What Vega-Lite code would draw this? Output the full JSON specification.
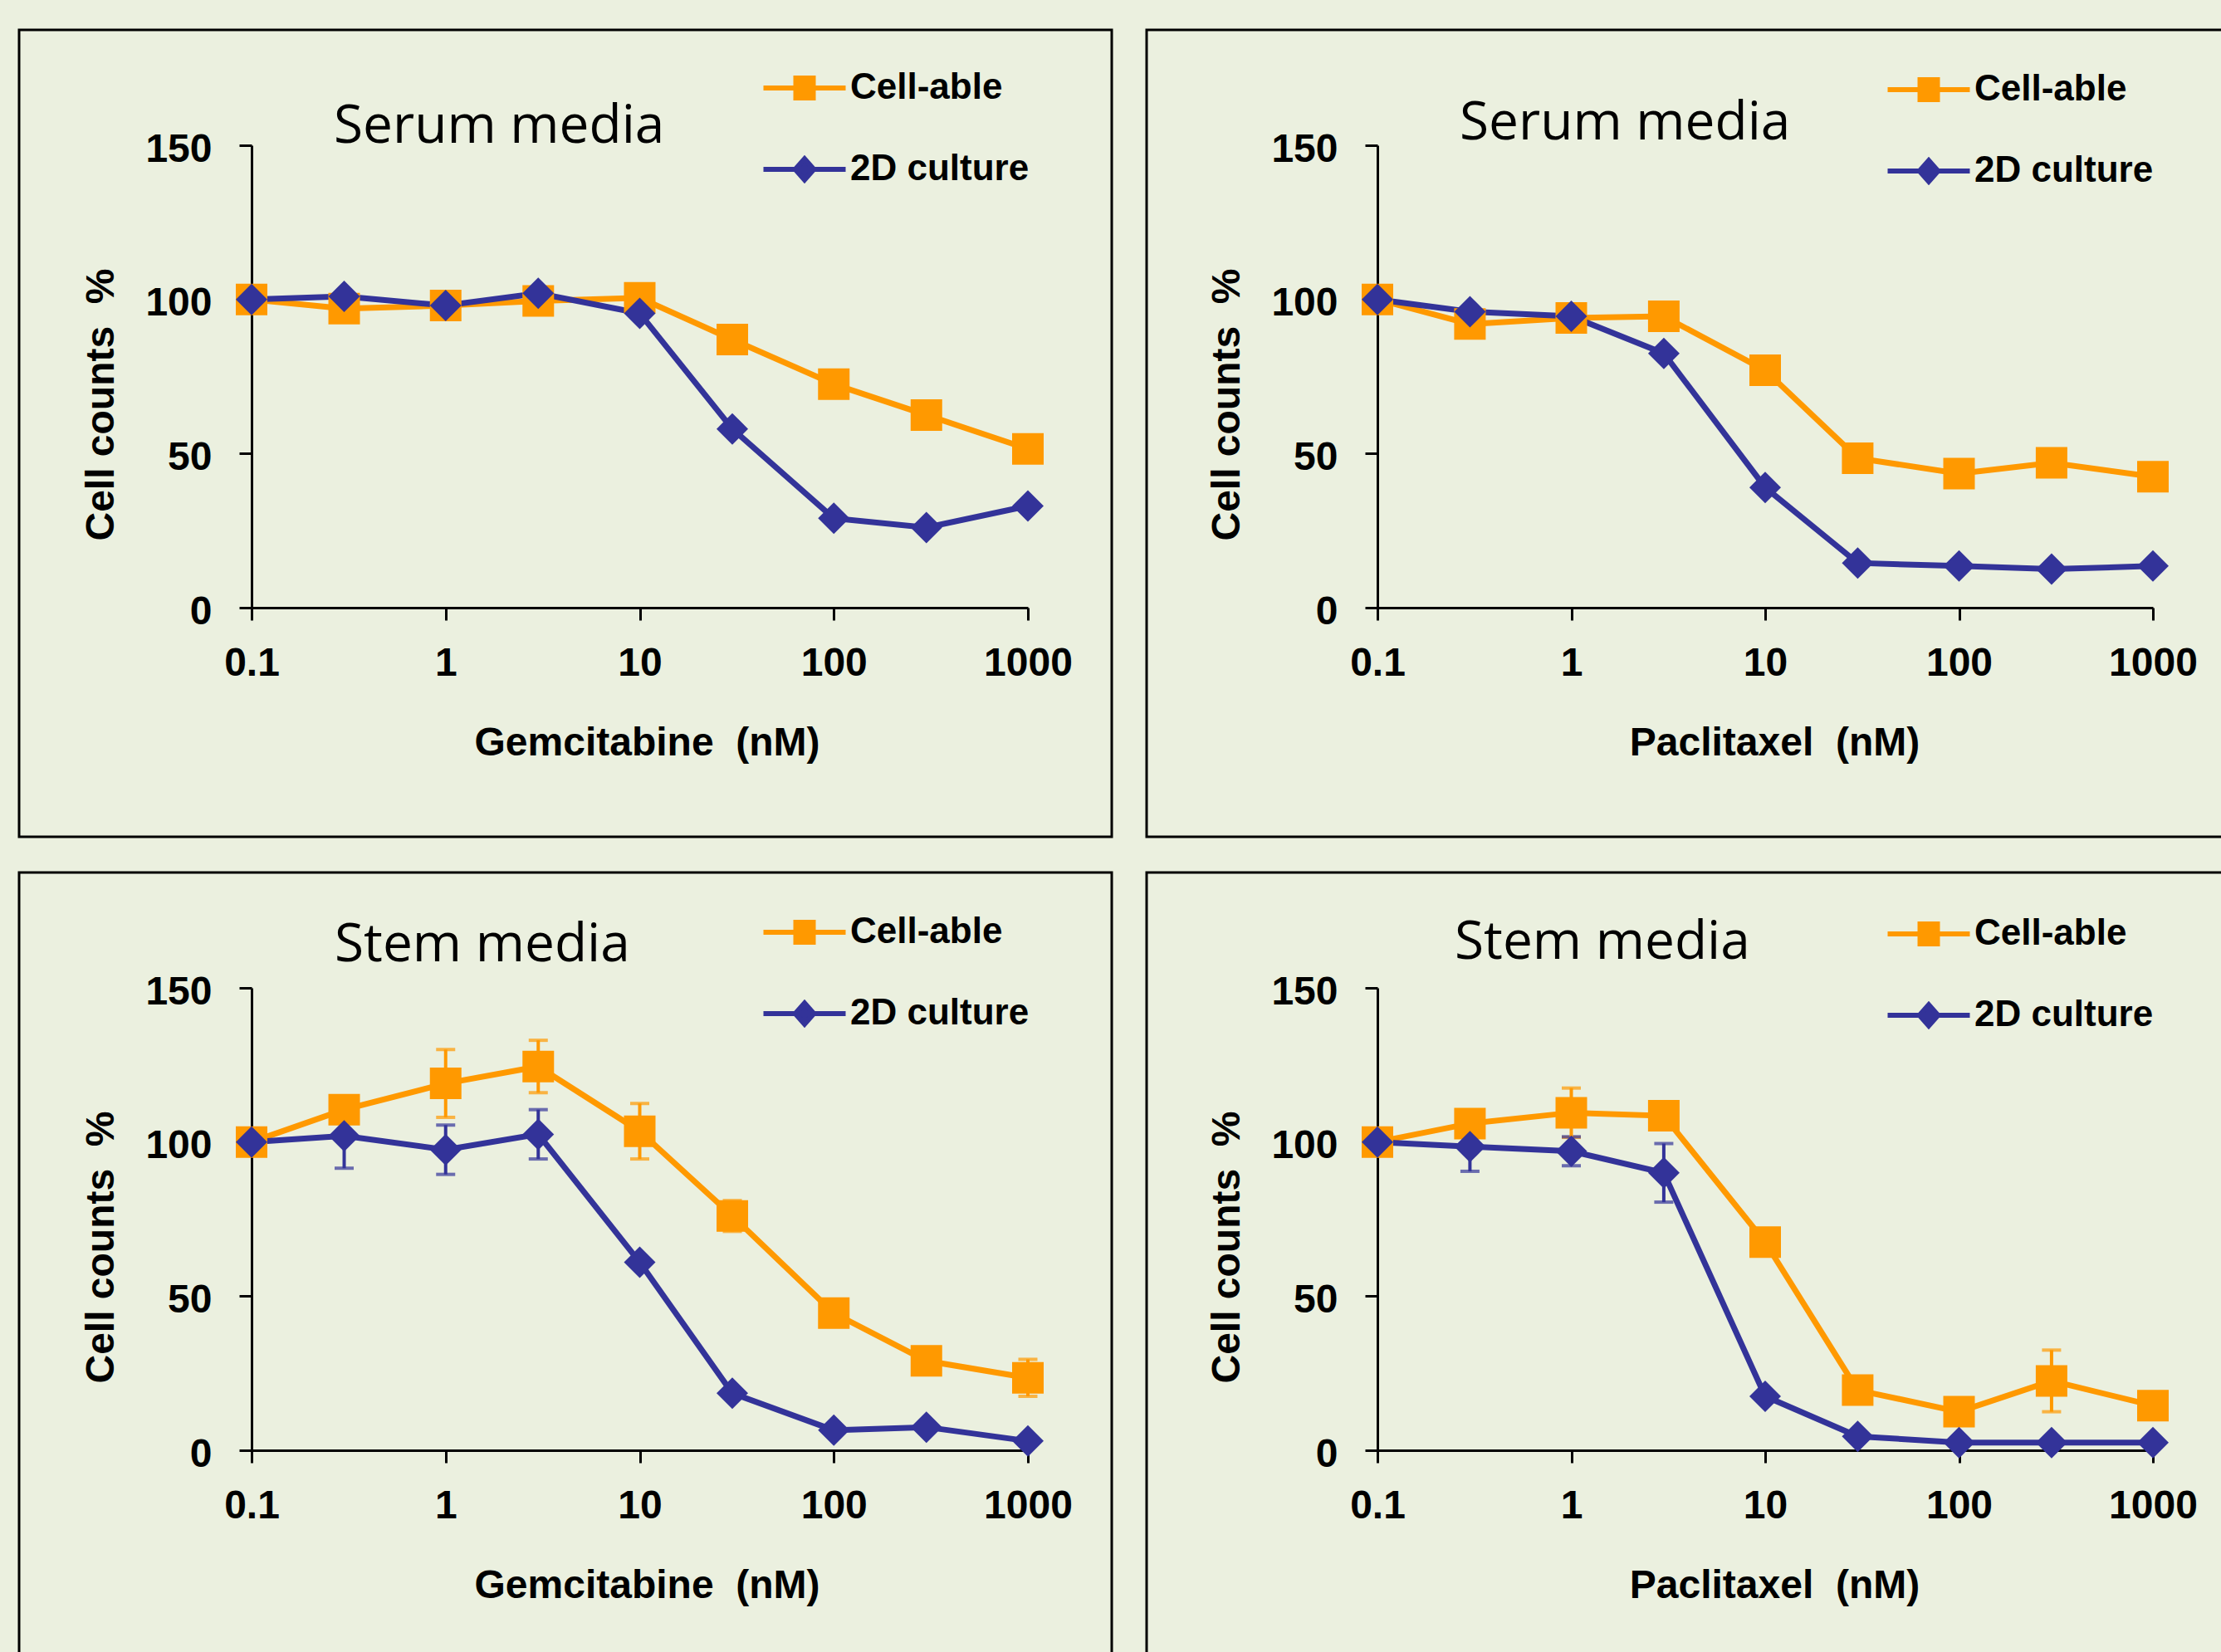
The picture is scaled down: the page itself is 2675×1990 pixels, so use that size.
{
  "$schema": "https://vega.github.io/schema/vega-lite/v6.json",
  "background": "#EBF0DF",
  "padding": {"left": 21, "top": 34, "right": 0, "bottom": 0},
  "data": {"values": [
    {"p": "SG", "series": "Cell-able", "conc": 0.1, "value": 100, "err": 0},
    {"p": "SG", "series": "Cell-able", "conc": 0.3, "value": 97, "err": 0},
    {"p": "SG", "series": "Cell-able", "conc": 1, "value": 98, "err": 0},
    {"p": "SG", "series": "Cell-able", "conc": 3, "value": 99.5, "err": 0},
    {"p": "SG", "series": "Cell-able", "conc": 10, "value": 100.5, "err": 0},
    {"p": "SG", "series": "Cell-able", "conc": 30, "value": 87, "err": 0},
    {"p": "SG", "series": "Cell-able", "conc": 100, "value": 72.5, "err": 0},
    {"p": "SG", "series": "Cell-able", "conc": 300, "value": 62.5, "err": 0},
    {"p": "SG", "series": "Cell-able", "conc": 1000, "value": 51.5, "err": 0},
    {"p": "SP", "series": "Cell-able", "conc": 0.1, "value": 100, "err": 0},
    {"p": "SP", "series": "Cell-able", "conc": 0.3, "value": 92, "err": 0},
    {"p": "SP", "series": "Cell-able", "conc": 1, "value": 94, "err": 0},
    {"p": "SP", "series": "Cell-able", "conc": 3, "value": 94.5, "err": 0},
    {"p": "SP", "series": "Cell-able", "conc": 10, "value": 77, "err": 0},
    {"p": "SP", "series": "Cell-able", "conc": 30, "value": 48.5, "err": 0},
    {"p": "SP", "series": "Cell-able", "conc": 100, "value": 43.5, "err": 0},
    {"p": "SP", "series": "Cell-able", "conc": 300, "value": 47, "err": 0},
    {"p": "SP", "series": "Cell-able", "conc": 1000, "value": 42.5, "err": 0},
    {"p": "TG", "series": "Cell-able", "conc": 0.1, "value": 100, "err": 0},
    {"p": "TG", "series": "Cell-able", "conc": 0.3, "value": 110.5, "err": 0},
    {"p": "TG", "series": "Cell-able", "conc": 1, "value": 119, "err": 11},
    {"p": "TG", "series": "Cell-able", "conc": 3, "value": 124.5, "err": 8.5},
    {"p": "TG", "series": "Cell-able", "conc": 10, "value": 103.5, "err": 9},
    {"p": "TG", "series": "Cell-able", "conc": 30, "value": 76, "err": 5},
    {"p": "TG", "series": "Cell-able", "conc": 100, "value": 44.5, "err": 0},
    {"p": "TG", "series": "Cell-able", "conc": 300, "value": 29, "err": 0},
    {"p": "TG", "series": "Cell-able", "conc": 1000, "value": 23.5, "err": 6},
    {"p": "TP", "series": "Cell-able", "conc": 0.1, "value": 100, "err": 0},
    {"p": "TP", "series": "Cell-able", "conc": 0.3, "value": 106, "err": 0},
    {"p": "TP", "series": "Cell-able", "conc": 1, "value": 109.5, "err": 8},
    {"p": "TP", "series": "Cell-able", "conc": 3, "value": 108.5, "err": 0},
    {"p": "TP", "series": "Cell-able", "conc": 10, "value": 67.5, "err": 0},
    {"p": "TP", "series": "Cell-able", "conc": 30, "value": 19.5, "err": 0},
    {"p": "TP", "series": "Cell-able", "conc": 100, "value": 12.5, "err": 0},
    {"p": "TP", "series": "Cell-able", "conc": 300, "value": 22.5, "err": 10},
    {"p": "TP", "series": "Cell-able", "conc": 1000, "value": 14.5, "err": 0},
    {"p": "SG", "series": "2D culture", "conc": 0.1, "value": 100, "err": 0},
    {"p": "SG", "series": "2D culture", "conc": 0.3, "value": 101, "err": 0},
    {"p": "SG", "series": "2D culture", "conc": 1, "value": 98, "err": 0},
    {"p": "SG", "series": "2D culture", "conc": 3, "value": 102, "err": 0},
    {"p": "SG", "series": "2D culture", "conc": 10, "value": 95.5, "err": 0},
    {"p": "SG", "series": "2D culture", "conc": 30, "value": 58, "err": 0},
    {"p": "SG", "series": "2D culture", "conc": 100, "value": 29, "err": 0},
    {"p": "SG", "series": "2D culture", "conc": 300, "value": 26, "err": 0},
    {"p": "SG", "series": "2D culture", "conc": 1000, "value": 33, "err": 0},
    {"p": "SP", "series": "2D culture", "conc": 0.1, "value": 100, "err": 0},
    {"p": "SP", "series": "2D culture", "conc": 0.3, "value": 96, "err": 0},
    {"p": "SP", "series": "2D culture", "conc": 1, "value": 94.5, "err": 0},
    {"p": "SP", "series": "2D culture", "conc": 3, "value": 82.5, "err": 0},
    {"p": "SP", "series": "2D culture", "conc": 10, "value": 39, "err": 0},
    {"p": "SP", "series": "2D culture", "conc": 30, "value": 14.5, "err": 0},
    {"p": "SP", "series": "2D culture", "conc": 100, "value": 13.5, "err": 0},
    {"p": "SP", "series": "2D culture", "conc": 300, "value": 12.5, "err": 0},
    {"p": "SP", "series": "2D culture", "conc": 1000, "value": 13.5, "err": 0},
    {"p": "TG", "series": "2D culture", "conc": 0.1, "value": 100, "err": 0},
    {"p": "TG", "series": "2D culture", "conc": 0.3, "value": 102, "err": 10.5},
    {"p": "TG", "series": "2D culture", "conc": 1, "value": 97.5, "err": 8},
    {"p": "TG", "series": "2D culture", "conc": 3, "value": 102.5, "err": 8},
    {"p": "TG", "series": "2D culture", "conc": 10, "value": 61, "err": 0},
    {"p": "TG", "series": "2D culture", "conc": 30, "value": 18.5, "err": 0},
    {"p": "TG", "series": "2D culture", "conc": 100, "value": 6.5, "err": 0},
    {"p": "TG", "series": "2D culture", "conc": 300, "value": 7.5, "err": 0},
    {"p": "TG", "series": "2D culture", "conc": 1000, "value": 3, "err": 0},
    {"p": "TP", "series": "2D culture", "conc": 0.1, "value": 100, "err": 0},
    {"p": "TP", "series": "2D culture", "conc": 0.3, "value": 98.5, "err": 8},
    {"p": "TP", "series": "2D culture", "conc": 1, "value": 97, "err": 4.7},
    {"p": "TP", "series": "2D culture", "conc": 3, "value": 90, "err": 9.5},
    {"p": "TP", "series": "2D culture", "conc": 10, "value": 17.5, "err": 0},
    {"p": "TP", "series": "2D culture", "conc": 30, "value": 4.5, "err": 0},
    {"p": "TP", "series": "2D culture", "conc": 100, "value": 2.5, "err": 0},
    {"p": "TP", "series": "2D culture", "conc": 300, "value": 2.5, "err": 0},
    {"p": "TP", "series": "2D culture", "conc": 1000, "value": 2.5, "err": 0}
  ]},
  "spacing": 39,
  "resolve": {"legend": {"color": "independent"}, "scale": {"color": "independent"}},
  "vconcat": [
    {
      "spacing": 38,
      "resolve": {"legend": {"color": "independent"}, "scale": {"color": "independent"}},
      "hconcat": [
        {
          "width": 1316, "height": 972,
          "title": {"text": "Serum media", "anchor": "start", "frame": "group", "offset": -200, "dx": 379, "baseline": "alphabetic", "font": "Open Sans", "fontSize": 64, "fontWeight": "normal", "color": "#000000"},
          "transform": [{"filter": "datum.p === 'SG'"}],
          "encoding": {
            "x": {"field": "conc", "type": "quantitative", "scale": {"type": "log", "domain": [0.1, 1000], "range": [280, 1215]}, "axis": {"title": "Gemcitabine\u00a0 (nM)", "values": [0.1, 1, 10, 100, 1000], "format": "~g", "offset": -276, "titleX": 756}},
            "y": {"field": "value", "type": "quantitative", "scale": {"domain": [0, 150], "range": [696, 139], "nice": false, "zero": false}, "axis": {"title": "Cell counts\u00a0 %", "values": [0, 50, 100, 150], "offset": -280, "titleY": 451}},
            "color": {"field": "series", "type": "nominal", "scale": {"domain": ["Cell-able", "2D culture"], "range": ["#FF9900", "#333399"]},
              "legend": {"title": null, "orient": "none", "legendX": 924, "legendY": 48, "encode": {"symbols": {"update": {
                "shape": {"signal": "datum.value === 'Cell-able' ? 'M-3.3,0H3.3M-0.7,-0.8H0.7V0.8H-0.7Z' : 'M-3.3,0H3.3M0,-0.85L0.75,0L0,0.85L-0.75,0Z'"},
                "fill": {"signal": "datum.value === 'Cell-able' ? '#FF9900' : '#333399'"},
                "stroke": {"signal": "datum.value === 'Cell-able' ? '#FF9900' : '#333399'"},
                "strokeWidth": {"value": 6}, "opacity": {"value": 1}, "fillOpacity": {"value": 1}, "strokeDash": {"value": []}}}}}}
          },
          "layer": [
            {"transform": [{"filter": "datum.err > 0"}], "mark": {"type": "errorbar", "ticks": {"size": 23, "thickness": 4}, "rule": {"strokeWidth": 4}}, "encoding": {"yError": {"field": "err"}}},
            {"mark": {"type": "line", "strokeWidth": 7}},
            {"mark": {"type": "point", "filled": true, "size": 1444, "opacity": 1}, "encoding": {"shape": {"field": "series", "type": "nominal", "scale": {"domain": ["Cell-able", "2D culture"], "range": ["square", "diamond"]}, "legend": null}}}
          ]
        },
        {
          "width": 1316, "height": 972,
          "title": {"text": "Serum media", "anchor": "start", "frame": "group", "offset": -196, "dx": 377, "baseline": "alphabetic", "font": "Open Sans", "fontSize": 64, "fontWeight": "normal", "color": "#000000"},
          "transform": [{"filter": "datum.p === 'SP'"}],
          "encoding": {
            "x": {"field": "conc", "type": "quantitative", "scale": {"type": "log", "domain": [0.1, 1000], "range": [278, 1212]}, "axis": {"title": "Paclitaxel\u00a0 (nM)", "values": [0.1, 1, 10, 100, 1000], "format": "~g", "offset": -276, "titleX": 756}},
            "y": {"field": "value", "type": "quantitative", "scale": {"domain": [0, 150], "range": [696, 139], "nice": false, "zero": false}, "axis": {"title": "Cell counts\u00a0 %", "values": [0, 50, 100, 150], "offset": -278, "titleY": 451}},
            "color": {"field": "series", "type": "nominal", "scale": {"domain": ["Cell-able", "2D culture"], "range": ["#FF9900", "#333399"]},
              "legend": {"title": null, "orient": "none", "legendX": 920, "legendY": 50, "encode": {"symbols": {"update": {
                "shape": {"signal": "datum.value === 'Cell-able' ? 'M-3.3,0H3.3M-0.7,-0.8H0.7V0.8H-0.7Z' : 'M-3.3,0H3.3M0,-0.85L0.75,0L0,0.85L-0.75,0Z'"},
                "fill": {"signal": "datum.value === 'Cell-able' ? '#FF9900' : '#333399'"},
                "stroke": {"signal": "datum.value === 'Cell-able' ? '#FF9900' : '#333399'"},
                "strokeWidth": {"value": 6}, "opacity": {"value": 1}, "fillOpacity": {"value": 1}, "strokeDash": {"value": []}}}}}}
          },
          "layer": [
            {"mark": {"type": "line", "strokeWidth": 7}},
            {"mark": {"type": "point", "filled": true, "size": 1444, "opacity": 1}, "encoding": {"shape": {"field": "series", "type": "nominal", "scale": {"domain": ["Cell-able", "2D culture"], "range": ["square", "diamond"]}, "legend": null}}}
          ]
        }
      ]
    },
    {
      "spacing": 38,
      "resolve": {"legend": {"color": "independent"}, "scale": {"color": "independent"}},
      "hconcat": [
        {
          "width": 1316, "height": 972,
          "title": {"text": "Stem media", "anchor": "start", "frame": "group", "offset": -171, "dx": 380, "baseline": "alphabetic", "font": "Open Sans", "fontSize": 64, "fontWeight": "normal", "color": "#000000"},
          "transform": [{"filter": "datum.p === 'TG'"}],
          "encoding": {
            "x": {"field": "conc", "type": "quantitative", "scale": {"type": "log", "domain": [0.1, 1000], "range": [280, 1215]}, "axis": {"title": "Gemcitabine\u00a0 (nM)", "values": [0.1, 1, 10, 100, 1000], "format": "~g", "offset": -276, "titleX": 756}},
            "y": {"field": "value", "type": "quantitative", "scale": {"domain": [0, 150], "range": [696, 139], "nice": false, "zero": false}, "axis": {"title": "Cell counts\u00a0 %", "values": [0, 50, 100, 150], "offset": -280, "titleY": 451}},
            "color": {"field": "series", "type": "nominal", "scale": {"domain": ["Cell-able", "2D culture"], "range": ["#FF9900", "#333399"]},
              "legend": {"title": null, "orient": "none", "legendX": 924, "legendY": 50, "encode": {"symbols": {"update": {
                "shape": {"signal": "datum.value === 'Cell-able' ? 'M-3.3,0H3.3M-0.7,-0.8H0.7V0.8H-0.7Z' : 'M-3.3,0H3.3M0,-0.85L0.75,0L0,0.85L-0.75,0Z'"},
                "fill": {"signal": "datum.value === 'Cell-able' ? '#FF9900' : '#333399'"},
                "stroke": {"signal": "datum.value === 'Cell-able' ? '#FF9900' : '#333399'"},
                "strokeWidth": {"value": 6}, "opacity": {"value": 1}, "fillOpacity": {"value": 1}, "strokeDash": {"value": []}}}}}}
          },
          "layer": [
            {"transform": [{"filter": "datum.err > 0"}], "mark": {"type": "errorbar", "ticks": {"size": 23, "thickness": 4}, "rule": {"strokeWidth": 4}}, "encoding": {"yError": {"field": "err"}}},
            {"mark": {"type": "line", "strokeWidth": 7}},
            {"mark": {"type": "point", "filled": true, "size": 1444, "opacity": 1}, "encoding": {"shape": {"field": "series", "type": "nominal", "scale": {"domain": ["Cell-able", "2D culture"], "range": ["square", "diamond"]}, "legend": null}}}
          ]
        },
        {
          "width": 1316, "height": 972,
          "title": {"text": "Stem media", "anchor": "start", "frame": "group", "offset": -168, "dx": 371, "baseline": "alphabetic", "font": "Open Sans", "fontSize": 64, "fontWeight": "normal", "color": "#000000"},
          "transform": [{"filter": "datum.p === 'TP'"}],
          "encoding": {
            "x": {"field": "conc", "type": "quantitative", "scale": {"type": "log", "domain": [0.1, 1000], "range": [278, 1212]}, "axis": {"title": "Paclitaxel\u00a0 (nM)", "values": [0.1, 1, 10, 100, 1000], "format": "~g", "offset": -276, "titleX": 756}},
            "y": {"field": "value", "type": "quantitative", "scale": {"domain": [0, 150], "range": [696, 139], "nice": false, "zero": false}, "axis": {"title": "Cell counts\u00a0 %", "values": [0, 50, 100, 150], "offset": -278, "titleY": 451}},
            "color": {"field": "series", "type": "nominal", "scale": {"domain": ["Cell-able", "2D culture"], "range": ["#FF9900", "#333399"]},
              "legend": {"title": null, "orient": "none", "legendX": 920, "legendY": 52, "encode": {"symbols": {"update": {
                "shape": {"signal": "datum.value === 'Cell-able' ? 'M-3.3,0H3.3M-0.7,-0.8H0.7V0.8H-0.7Z' : 'M-3.3,0H3.3M0,-0.85L0.75,0L0,0.85L-0.75,0Z'"},
                "fill": {"signal": "datum.value === 'Cell-able' ? '#FF9900' : '#333399'"},
                "stroke": {"signal": "datum.value === 'Cell-able' ? '#FF9900' : '#333399'"},
                "strokeWidth": {"value": 6}, "opacity": {"value": 1}, "fillOpacity": {"value": 1}, "strokeDash": {"value": []}}}}}}
          },
          "layer": [
            {"transform": [{"filter": "datum.err > 0"}], "mark": {"type": "errorbar", "ticks": {"size": 23, "thickness": 4}, "rule": {"strokeWidth": 4}}, "encoding": {"yError": {"field": "err"}}},
            {"mark": {"type": "line", "strokeWidth": 7}},
            {"mark": {"type": "point", "filled": true, "size": 1444, "opacity": 1}, "encoding": {"shape": {"field": "series", "type": "nominal", "scale": {"domain": ["Cell-able", "2D culture"], "range": ["square", "diamond"]}, "legend": null}}}
          ]
        }
      ]
    }
  ],
  "config": {
    "view": {"stroke": "#000000", "strokeWidth": 3},
    "font": "Liberation Sans",
    "axis": {"domainColor": "#000000", "domainWidth": 3, "tickColor": "#000000", "tickWidth": 3, "tickSize": 15,
      "labelFont": "Liberation Sans", "labelFontSize": 48, "labelFontWeight": "bold", "labelColor": "#000000",
      "titleFont": "Liberation Sans", "titleFontSize": 48, "titleFontWeight": "bold", "titleColor": "#000000",
      "grid": false, "labelOverlap": false, "labelFlush": false},
    "axisX": {"labelPadding": 28, "titlePadding": 48},
    "axisY": {"labelPadding": 33, "titlePadding": 28, "labelOffset": 5},
    "legend": {"labelFont": "Liberation Sans", "labelFontSize": 44, "labelFontWeight": "bold", "labelColor": "#000000",
      "labelLimit": 1000, "symbolSize": 900, "labelOffset": 33, "rowPadding": 49, "padding": 0}
  }
}
